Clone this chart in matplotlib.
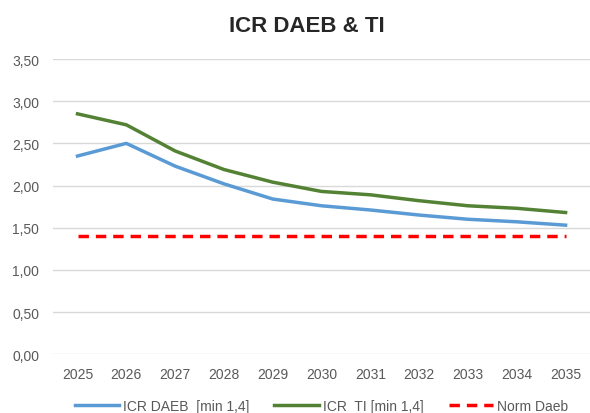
import matplotlib

matplotlib.use("Agg")

import matplotlib.pyplot as plt

years = [str(y) for y in range(2025, 2036)]
icr_daeb = [2.35, 2.50, 2.23, 2.02, 1.84, 1.76, 1.71, 1.65, 1.60, 1.57, 1.53]
icr_ti = [2.85, 2.72, 2.41, 2.19, 2.04, 1.93, 1.89, 1.82, 1.76, 1.73, 1.68]
norm_daeb = [1.40] * len(years)
y_ticks = [0.0, 0.5, 1.0, 1.5, 2.0, 2.5, 3.0, 3.5]

plt.rcParams["font.family"] = ["Liberation Sans", "DejaVu Sans"]

fig = plt.figure(figsize=(5.9, 4.14), dpi=100)
ax = fig.add_axes([0.09, 0.142, 0.91, 0.713])

x = range(len(years))
ax.plot(x, icr_daeb, color="#5B9BD5", linewidth=2.5, label="ICR DAEB  [min 1,4]")
ax.plot(x, icr_ti, color="#548235", linewidth=2.5, label="ICR  TI [min 1,4]")
ax.plot(x, norm_daeb, color="#FF0000", linewidth=2.5, linestyle=(0, (3, 2)),
        label="Norm Daeb")

ax.set_xlim(-0.5, len(years) - 0.5)
ax.set_ylim(0, 3.5)
ax.set_yticks(y_ticks)
ax.set_yticklabels([f"{v:.2f}".replace(".", ",") for v in y_ticks])
ax.set_xticks(list(x))
ax.set_xticklabels(years)
ax.tick_params(colors="#595959", labelsize=10, length=0)
ax.tick_params(axis="x", pad=9)
ax.tick_params(axis="y", pad=10)
ax.grid(axis="y", color="#D9D9D9", linewidth=1)
ax.set_axisbelow(True)
for spine in ax.spines.values():
    spine.set_visible(False)

fig.text(0.52, 0.935, "ICR DAEB & TI", fontsize=16, fontweight="bold",
         color="#262626", ha="center", va="center")

ax.legend(loc="center", bbox_to_anchor=(0.5, -0.175), ncol=3,
          frameon=False, fontsize=10, labelcolor="#595959", handlelength=3.2,
          columnspacing=1.8, handletextpad=0.3)

fig.savefig("out.png", dpi=100)
plt.close(fig)
